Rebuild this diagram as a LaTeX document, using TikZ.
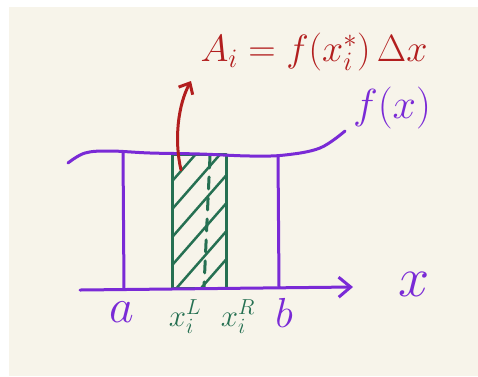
\RequirePackage{fix-cm}
\documentclass[tikz,border=0pt]{standalone}
\usetikzlibrary{arrows.meta}
\definecolor{cream}{RGB}{247,244,234}
\definecolor{hpurple}{RGB}{122,42,214}
\definecolor{hgreen}{RGB}{38,112,82}
\definecolor{hred}{RGB}{178,30,30}
\begin{document}
\begin{tikzpicture}[x=1pt,y=-1pt,
  pline/.style={hpurple,line width=3pt,line cap=round,line join=round},
  gline/.style={hgreen,line width=3pt,line cap=round,line join=round},
  rline/.style={hred,line width=3pt,line cap=round},
  plab/.style={hpurple,inner sep=0pt},
  glab/.style={hgreen,inner sep=0pt,font=\fontsize{31}{31}\selectfont},
  rlab/.style={hred,inner sep=0pt,font=\fontsize{38}{38}\selectfont}]
\useasboundingbox (0,0) rectangle (478,376);
\fill[white] (0,0) rectangle (478,376);
\fill[cream] (9,7) rectangle (478,376);
% coordinates
\coordinate (ax0) at (80,290);
\coordinate (ax1) at (353,287);
\coordinate (at) at (123,152);
\coordinate (ab) at (124,289);
\coordinate (bt) at (278,156);
\coordinate (bb) at (279,287);
\coordinate (rtl) at (172,154);
\coordinate (rbr) at (226,288);
\coordinate (dtop) at (210,156);
\coordinate (dbot) at (204,287);
\coordinate (arS) at (181,170);
\coordinate (arE) at (191,81);
% hatching
\begin{scope}
\clip (rtl) rectangle (rbr);
\foreach \k in {0,...,9}{
  \draw[gline,line width=2.5pt] (160,195+28*\k-28) -- +(70,-80);
}
\end{scope}
% rectangle
\draw[gline] (rtl) rectangle (rbr);
\draw[gline,dash pattern=on 12pt off 9pt] (dtop) -- (dbot);
% function curve
\draw[pline] plot[smooth,tension=0.6] coordinates {(68,163) (85,153) (110,151) (150,153) (200,154) (250,156) (285,155) (320,148) (345,131)};
% verticals
\draw[pline] (at) -- (ab);
\draw[pline] (bt) -- (bb);
% axis
\draw[pline,-{Straight Barb[length=12pt,width=20pt,line width=3pt]}] (ax0) -- (ax1);
% red arrow
\draw[rline,-{Straight Barb[length=9pt,width=16pt,line width=3pt]}] (arS) .. controls (174,140) and (178,105) .. (arE);
% labels
\node[rlab] (title) at (314,52) {$A_i = f(x_i^{*})\,\Delta x$};
\node[plab,font=\fontsize{42}{42}\selectfont] (fx) at (392,108) {$f(x)$};
\node[plab,font=\fontsize{56}{56}\selectfont] (xl) at (414,284) {$x$};
\node[plab,font=\fontsize{48}{48}\selectfont] (la) at (122,312) {$a$};
\node[plab,font=\fontsize{42}{42}\selectfont] (lb) at (284,313) {$b$};
\node[glab] (xL) at (185,317) {$x_i^L$};
\node[glab] (xR) at (238,317) {$x_i^R$};
\end{tikzpicture}
\end{document}
